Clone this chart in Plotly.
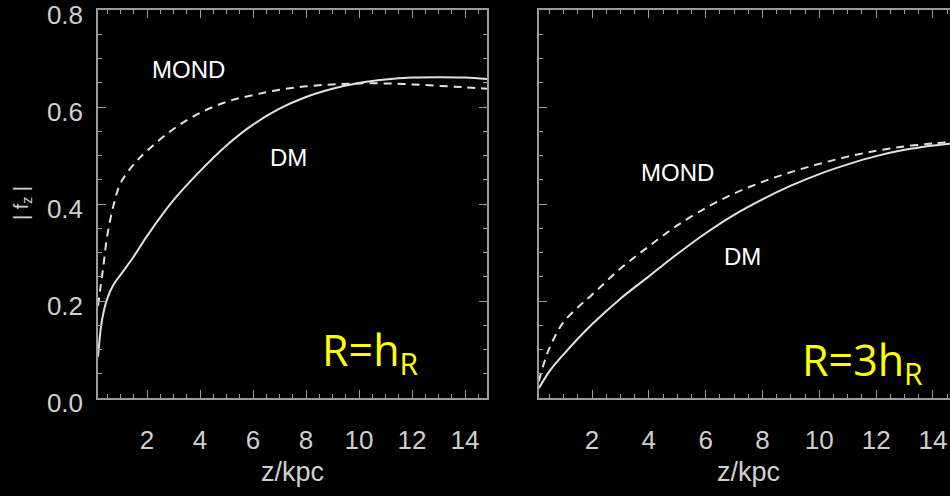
import plotly.graph_objects as go

# ---- data ----
z_dm_l = [0.15, 0.3, 0.5, 0.75, 1.0, 1.5, 2.0, 3.0, 4.0, 5.0, 6.0, 7.0, 8.0, 9.0, 10.0, 11.0, 12.0, 13.0, 14.0, 14.83]
f_dm_l = [0.085, 0.16, 0.205, 0.235, 0.254, 0.292, 0.334, 0.408, 0.468, 0.521, 0.564, 0.597, 0.621, 0.638, 0.650, 0.657, 0.661, 0.662, 0.661, 0.658]

z_mond_l = [0.15, 0.25, 0.35, 0.5, 0.75, 1.0, 1.5, 2.0, 3.0, 4.0, 5.0, 6.0, 7.0, 8.0, 9.0, 10.0, 11.0, 12.0, 13.0, 14.0, 14.83]
f_mond_l = [0.19, 0.23, 0.27, 0.335, 0.40, 0.443, 0.482, 0.510, 0.555, 0.588, 0.611, 0.625, 0.636, 0.643, 0.647, 0.649, 0.649, 0.647, 0.644, 0.641, 0.638]

z_dm_r = [0.13, 0.5, 1, 2, 3, 4, 5, 6, 7, 8, 9, 10, 11, 12, 13, 14, 14.83]
f_dm_r = [0.02, 0.055, 0.09, 0.152, 0.205, 0.251, 0.297, 0.340, 0.378, 0.410, 0.438, 0.462, 0.482, 0.499, 0.512, 0.521, 0.526]

z_mond_r = [0.13, 0.3, 0.5, 0.75, 1, 1.5, 2, 3, 4, 5, 6, 7, 8, 9, 10, 11, 12, 13, 14, 14.83]
f_mond_r = [0.035, 0.07, 0.103, 0.133, 0.157, 0.187, 0.213, 0.267, 0.313, 0.356, 0.392, 0.422, 0.446, 0.466, 0.483, 0.498, 0.510, 0.519, 0.525, 0.529]

x_ticks = [2, 4, 6, 8, 10, 12, 14]
y_ticks = [0.0, 0.2, 0.4, 0.6, 0.8]
y_ticktext = ["0.0", "0.2", "0.4", "0.6", "0.8"]

W, H = 950, 496
LINE = "#e2e2e2"
AX = "#9a9a9a"
TXT = "#cfcfcf"
LAB = "Liberation Sans, Arial, sans-serif"

fig = go.Figure()
fig.add_trace(go.Scatter(x=z_mond_l, y=f_mond_l, mode="lines", line=dict(color=LINE, width=2, dash="8px,6px", shape="spline"), xaxis="x", yaxis="y", showlegend=False))
fig.add_trace(go.Scatter(x=z_dm_l, y=f_dm_l, mode="lines", line=dict(color=LINE, width=2, shape="spline"), xaxis="x", yaxis="y", showlegend=False))
fig.add_trace(go.Scatter(x=z_mond_r, y=f_mond_r, mode="lines", line=dict(color=LINE, width=2, dash="8px,6px", shape="spline"), xaxis="x2", yaxis="y2", showlegend=False))
fig.add_trace(go.Scatter(x=z_dm_r, y=f_dm_r, mode="lines", line=dict(color=LINE, width=2, shape="spline"), xaxis="x2", yaxis="y2", showlegend=False))

ydom = [1 - 398 / H, 1 - 10 / H]

def xax(domain, rng, anchor):
    return dict(domain=domain, range=rng, anchor=anchor, showgrid=False, zeroline=False, automargin=False,
                showline=True, linecolor=AX, linewidth=1.5, mirror="allticks",
                ticks="inside", ticklen=8, tickwidth=1.2, tickcolor=AX,
                tickvals=x_ticks, ticktext=[str(v) for v in x_ticks],
                tickfont=dict(family=LAB, size=26, color=TXT), ticklabelstandoff=18,
                minor=dict(ticks="inside", ticklen=4, tickwidth=1.2, tickcolor=AX, dtick=0.5, tick0=0, showgrid=False))

def yax(anchor, labels):
    return dict(domain=ydom, range=[0, 0.8005], anchor=anchor, showgrid=False, zeroline=False, automargin=False,
                showline=True, linecolor=AX, linewidth=1.5, mirror="allticks" if labels else False,
                ticks="inside", ticklen=8, tickwidth=1.2, tickcolor=AX,
                tickvals=y_ticks, ticktext=y_ticktext, showticklabels=labels,
                ticklabeloverflow="allow", ticklabelshift=5,
                tickfont=dict(family=LAB, size=26, color=TXT), ticklabelstandoff=8,
                minor=dict(ticks="inside", ticklen=4, tickwidth=1.2, tickcolor=AX, dtick=0.05, tick0=0, showgrid=False))

fig.update_layout(
    width=W, height=H, margin=dict(l=0, r=0, t=0, b=0, autoexpand=False),
    paper_bgcolor="black", plot_bgcolor="black",
    xaxis=xax([98 / W, 487 / W], [0.151, 14.83], "y"),
    yaxis=yax("x", True),
    xaxis2=xax([539 / W, 1.0], [0.134, 14.6], "y2"),
    yaxis2=yax("x2", False),
)

def ann(text, x, y, size, color, family=LAB, angle=0):
    fig.add_annotation(text=text, x=x / W, y=1 - y / H, xref="paper", yref="paper",
                       showarrow=False, xanchor="center", yanchor="middle", textangle=angle,
                       font=dict(family=family, size=size, color=color))

ann("MOND", 188, 69, 24, "white")
ann("DM", 288, 157, 24, "white")
ann("MOND", 677, 172, 24, "white")
ann("DM", 742, 256, 24, "white")
ann("R=h<sub>R</sub>", 370, 352, 43, "#ffff00", family="Open Sans, sans-serif")
ann("R=3h<sub>R</sub>", 862, 362, 43, "#ffff00", family="Open Sans, sans-serif")
ann("z/kpc", 292, 472, 27, TXT)
ann("z/kpc", 748, 472, 27, TXT)
ann("| f<sub>z</sub> |", 22, 203, 20, TXT, angle=-90)

fig.write_html("out.html",
               post_script="document.body.style.margin='0';document.body.style.background='black';",
               config={"displayModeBar": False})
